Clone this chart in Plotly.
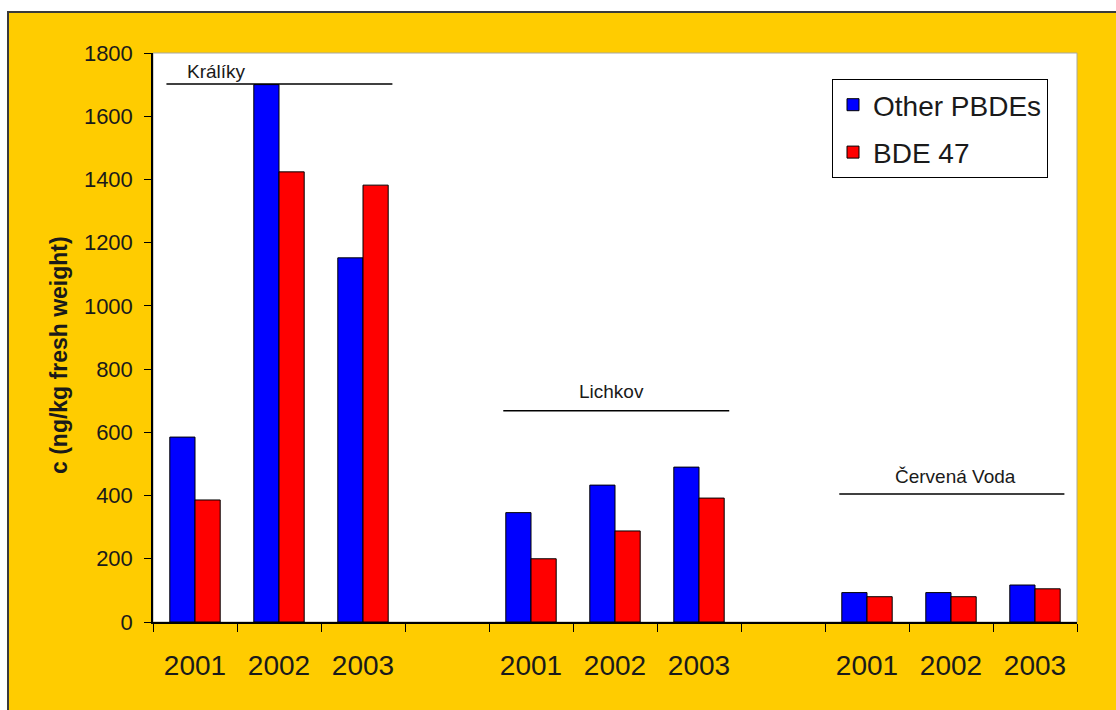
import plotly.graph_objects as go

# PBDE concentrations in fish, three sampling sites, three years each
sites = ["Králíky", "Lichkov", "Červená Voda"]
years = ["2001", "2002", "2003"]
other_pbdes = [[585, 1700, 1152], [346, 433, 490], [93, 93, 117]]
bde_47 = [[386, 1424, 1382], [200, 288, 392], [80, 80, 105]]
y_title = "c (ng/kg fresh weight)"

# Horizontal bracket per site: (x start, x end, y) in category units / data units
site_lines = [(-0.34, 2.35, 1702), (3.67, 6.36, 668), (7.67, 10.35, 405)]
site_label_pos = [(0.26, 1740), (4.96, 728), (9.05, 459)]

ZW = "\u200b"  # zero-width space keeps repeated year labels as distinct categories

categories = []
x_other, y_other, x_bde, y_bde = [], [], [], []
for k, site in enumerate(sites):
    for j, yr in enumerate(years):
        cat = yr + ZW * k
        categories.append(cat)
        x_other.append(cat)
        y_other.append(other_pbdes[k][j])
        x_bde.append(cat)
        y_bde.append(bde_47[k][j])
    if k < len(sites) - 1:
        categories.append(ZW * (10 + k))  # empty slot between sites

FONT = "Liberation Sans, Arial, sans-serif"
INK = "#1a1a1a"
GOLD = "#FFCC00"

fig = go.Figure()
fig.add_trace(go.Bar(
    x=x_other, y=y_other, name="Other PBDEs", legendgroup="a",
    marker=dict(color="#0000FF", line=dict(color="#000000", width=1)),
))
fig.add_trace(go.Bar(
    x=x_bde, y=y_bde, name="BDE 47", legendgroup="b",
    marker=dict(color="#FF0000", line=dict(color="#000000", width=1)),
))

# plot-area pixel box used to place paper-referenced frame pieces
W, H = 1116, 710
L, R, T, B = 153, 1077, 53, 622


def px(x):
    return (x - L) / (R - L)


def py(y):
    return (B - y) / (B - T)


shapes = [
    # white strips outside the gold frame (top and left)
    dict(type="rect", xref="paper", yref="paper", x0=px(-2), x1=px(W + 2), y0=py(-2), y1=py(11),
         fillcolor="white", line=dict(width=0), layer="below"),
    dict(type="rect", xref="paper", yref="paper", x0=px(-2), x1=px(7), y0=py(H + 2), y1=py(-2),
         fillcolor="white", line=dict(width=0), layer="below"),
    # dark frame edges
    dict(type="line", xref="paper", yref="paper", x0=px(7), x1=px(W + 2), y0=py(12), y1=py(12),
         line=dict(color="#3a3a3a", width=2)),
    dict(type="line", xref="paper", yref="paper", x0=px(8), x1=px(8), y0=py(11), y1=py(H + 2),
         line=dict(color="#3a3a3a", width=2)),
    # faint plot-area outline
    dict(type="rect", xref="paper", yref="paper", x0=0, x1=1, y0=0, y1=1,
         line=dict(color="#a8a8a0", width=1), layer="below"),
]
for x0, x1, yv in site_lines:
    shapes.append(dict(type="line", xref="x", yref="y", x0=x0, x1=x1, y0=yv, y1=yv,
                       line=dict(color="#000000", width=1.5)))

annotations = []
for name, (xa, ya) in zip(sites, site_label_pos):
    annotations.append(dict(x=xa, y=ya, xref="x", yref="y", text=name, showarrow=False,
                            font=dict(family=FONT, size=19, color=INK)))

# vertical y-axis title
annotations.append(dict(
    x=px(59), y=py(355), xref="paper", yref="paper", text="<b>" + y_title + "</b>",
    textangle=-90, showarrow=False, xanchor="center", yanchor="middle",
    font=dict(family=FONT, size=23, color=INK),
))

fig.update_layout(
    width=W, height=H,
    margin=dict(l=L, r=W - R, t=T, b=H - B, autoexpand=False),
    paper_bgcolor=GOLD,
    plot_bgcolor="white",
    barmode="group",
    bargap=0.4,
    bargroupgap=0,
    shapes=shapes,
    annotations=annotations,
    legend=dict(
        x=px(832), y=py(79), xanchor="left", yanchor="top",
        bgcolor="white", bordercolor="#000000", borderwidth=1,
        font=dict(family=FONT, size=28, color=INK),
        tracegroupgap=8,
    ),
    xaxis=dict(
        type="category", categoryorder="array", categoryarray=categories,
        range=[-0.5, len(categories) - 0.5],
        tickson="boundaries", ticks="outside", ticklen=8, tickcolor="#000000",
        showline=True, linecolor="#000000", linewidth=1.5,
        showgrid=False, zeroline=False,
        tickfont=dict(family=FONT, size=28, color=INK),
        ticklabelstandoff=18,
    ),
    yaxis=dict(
        range=[0, 1800], dtick=200, tick0=0,
        ticks="outside", ticklen=7, tickcolor="#000000",
        showline=True, linecolor="#000000", linewidth=1.5,
        showgrid=False, zeroline=False,
        tickfont=dict(family=FONT, size=22, color=INK),
        ticklabelstandoff=7,
    ),
)

fig.write_html("out.html")
